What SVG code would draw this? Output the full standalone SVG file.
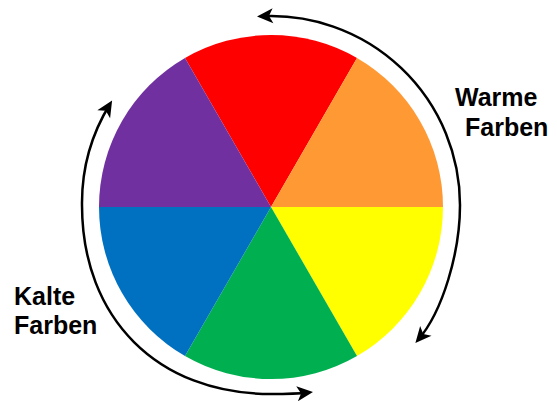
<svg xmlns="http://www.w3.org/2000/svg" width="557" height="401" viewBox="0 0 557 401">
  <style>
    .lbl { font-family: "Liberation Sans", Arial, sans-serif; font-size: 25px; font-weight: bold; fill: #000000; }
    .conn { fill: none; stroke: #000000; stroke-width: 2.5; }
  </style>
  <defs>
    <marker id="stealth" markerUnits="userSpaceOnUse" markerWidth="16" markerHeight="15" refX="12" refY="7.5" orient="auto-start-reverse" overflow="visible">
      <path d="M0,0 L16,7.5 L0,15 L4,7.5 Z" fill="#000000"/>
    </marker>
  </defs>
  <rect width="557" height="401" fill="#FFFFFF"/>

  <g id="sector-red"><path d="M271,207 L185,58.04 A172,172 0 0 1 357,58.04 Z" fill="#FF0000"/></g>
  <g id="sector-orange"><path d="M271,207 L357,58.04 A172,172 0 0 1 443,207 Z" fill="#FF9933"/></g>
  <g id="sector-yellow"><path d="M271,207 L443,207 A172,172 0 0 1 357,355.96 Z" fill="#FFFF00"/></g>
  <g id="sector-green"><path d="M271,207 L357,355.96 A172,172 0 0 1 185,355.96 Z" fill="#00B050"/></g>
  <g id="sector-blue"><path d="M271,207 L185,355.96 A172,172 0 0 1 99,207 Z" fill="#0070C0"/></g>
  <g id="sector-purple"><path d="M271,207 L99,207 A172,172 0 0 1 185,58.04 Z" fill="#7030A0"/></g>

  <g id="connectors">
    <path id="warm-arrow" class="conn" d="M261,16.3 A189,189 0 0 1 460,205 C460,252 443,311 418,340" marker-start="url(#stealth)" marker-end="url(#stealth)"/>
    <path id="cold-arrow" class="conn" d="M110,104 A189,189 0 0 0 82,205 C82,318.4 157.6,394 271,394 C287,394 300,393.5 309,392.5" marker-start="url(#stealth)" marker-end="url(#stealth)"/>
  </g>

  <g id="label-warm">
    <text class="lbl" x="455" y="105.5">Warme</text>
    <text class="lbl" x="465" y="135.5">Farben</text>
  </g>
  <g id="label-cold">
    <text class="lbl" x="14" y="305">Kalte</text>
    <text class="lbl" x="14" y="334">Farben</text>
  </g>
</svg>
